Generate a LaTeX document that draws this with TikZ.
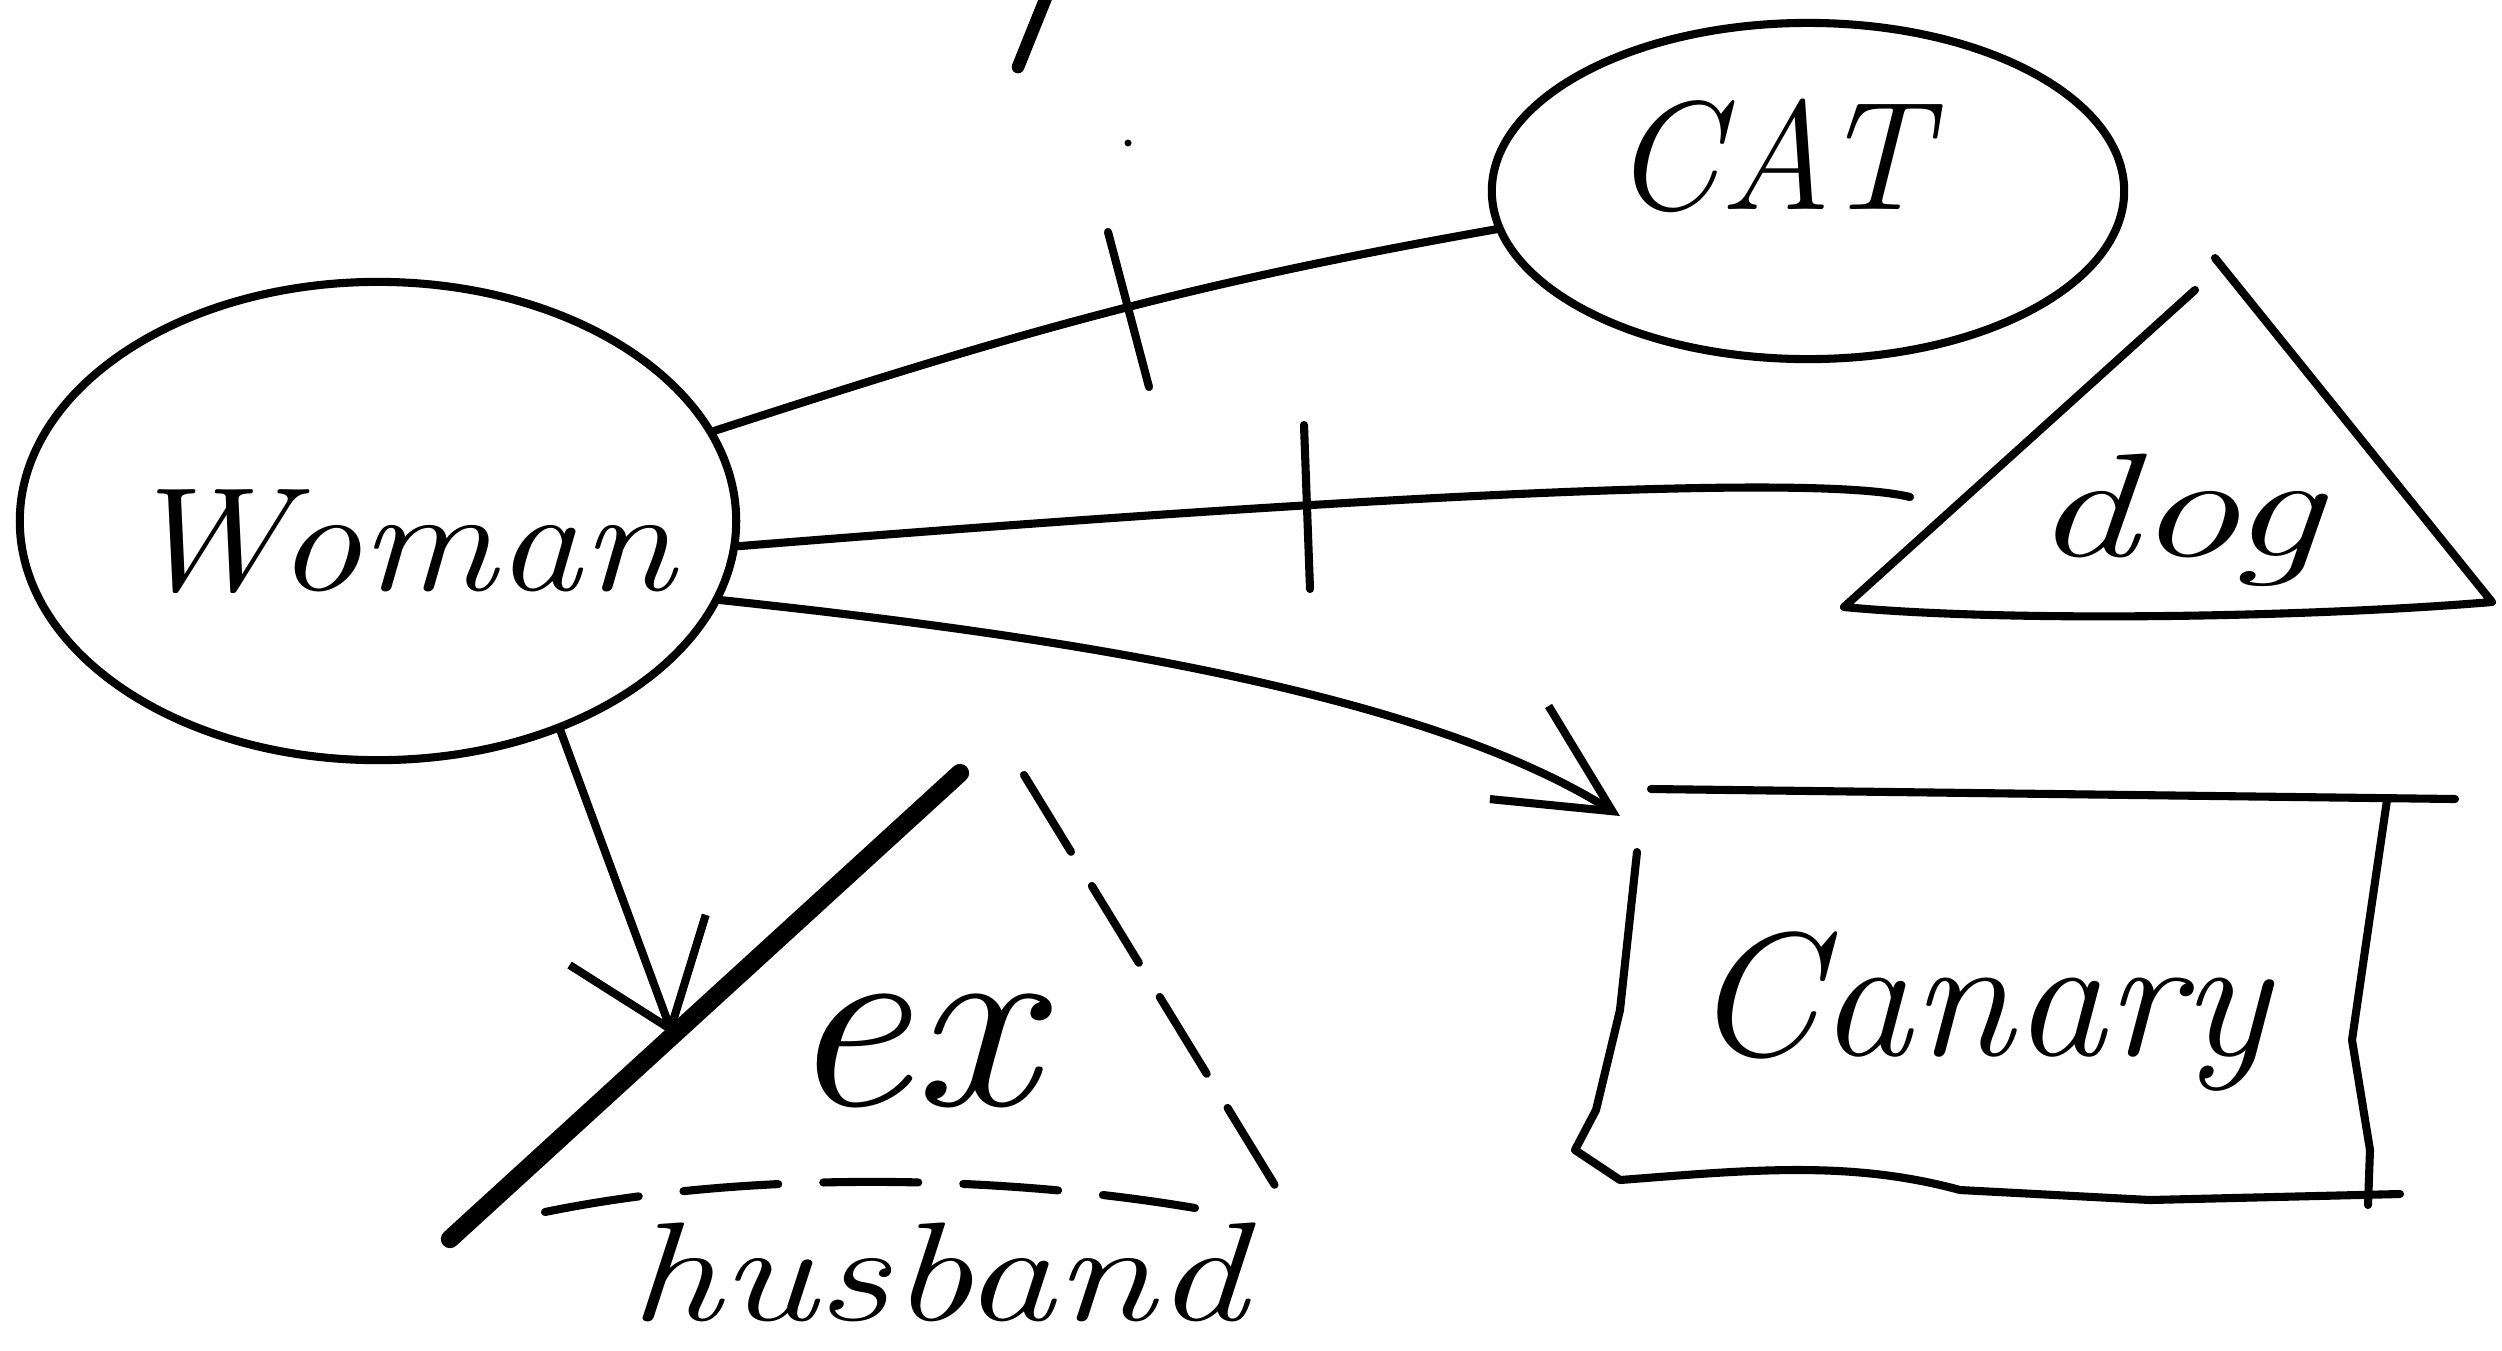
\documentclass[tikz,border=0pt]{standalone}
\usetikzlibrary{shapes.geometric,arrows.meta,calc}
\begin{document}
\begin{tikzpicture}[x=0.01cm,y=-0.01cm,
  ink/.style={line width=2.3pt,line cap=round,line join=round},
  heavy/.style={line width=5.2pt,line cap=round},
  dashink/.style={ink,dash pattern=on 0.95cm off 0.45cm},
  oval/.style={ellipse,draw,ink,inner sep=0pt},
  lbl/.style={font=\itshape\fontsize{#1}{#1}\selectfont,inner sep=0pt,anchor=base}]
\useasboundingbox (0,0) rectangle (2502,1350);

% top fragment
\draw[line width=3.6pt,line cap=round] (1047,-5) -- (1018,67);
\fill (1128,143) circle (0.035cm);

% Woman
\node[oval,minimum width=7.16cm,minimum height=4.78cm] (woman) at (378,521) {};
\node[lbl=42pt] (womantext) at (399,590) {\scalebox{1.15}[1]{Woman}};

% CAT
\node[oval,minimum width=6.32cm,minimum height=3.36cm] (cat) at (1808,191) {};
\node[lbl=44pt] (cattext) at (1770,209) {CAT};

% dog triangle
\coordinate (dogtop) at (2215,258);
\coordinate (dogtopL) at (2195,290);
\coordinate (dogleft) at (1844,607);
\coordinate (dogright) at (2492,602);
\draw[ink] (dogtopL) -- (dogleft) .. controls (2000,622) and (2300,618) .. (dogright) -- (dogtop);
\node[lbl=42pt] (dogtext) at (2178,556) {\scalebox{1.4}[1]{dog}};
\coordinate (dogend) at (1910,497);

% Canary box
\coordinate (cTL) at (1651,789);
\coordinate (cTR) at (2455,799);
\draw[ink] (cTL) -- (cTR);
\draw[ink] (2387,800) -- (2370,916) -- (2352,1040) -- (2370,1150) -- (2368,1205);
\draw[ink] (1637,852) -- (1620,1010) -- (1596,1110) -- (1575,1150) -- (1620,1180)
  .. controls (1750,1170) and (1850,1160) .. (1960,1190) -- (2150,1200) -- (2400,1194);
\node[lbl=50pt] (canarytext) at (1980,1055) {\scalebox{1.05}[1]{Canary}};
\coordinate (canin) at (1620,816);

% ex-husband triangle
\coordinate (exA) at (960,773);
\coordinate (exB) at (450,1239);
\draw[heavy] (exA) -- (exB);
\draw[dashink,dash pattern=on 0.9cm off 0.4cm] (1024,775) -- (1290,1210);
\draw[dashink] (545,1212) .. controls (750,1170) and (1000,1175) .. (1195,1208);
\node[lbl=72pt] (extext) at (911,1105) {\scalebox{1.1}[1]{ex}};
\node[lbl=40pt] (husband) at (938,1320) {\scalebox{1.3}[1]{husband}};
\coordinate (exin) at ($(exA)!0.563!(exB)$);

% connectors
\draw[ink] (woman.15) to[out=18,in=190] (cat.187);
\coordinate (t1a) at (1108,232); \coordinate (t1b) at (1149,387);
\draw[ink] (t1a) -- (t1b);

\draw[ink] (woman.-4) .. controls (1250,505) and (1800,470) .. (dogend);
\coordinate (t2a) at (1304,425); \coordinate (t2b) at (1310,589);
\draw[ink] (t2a) -- (t2b);

\draw[ink,-{Straight Barb[length=1.1cm,width=1.1cm]}] (woman.-13) .. controls (1050,635) and (1420,690) .. (canin);

\draw[ink,-{Straight Barb[length=0.95cm,width=1.45cm]}] (woman.-49) -- (exin);
\end{tikzpicture}
\end{document}
